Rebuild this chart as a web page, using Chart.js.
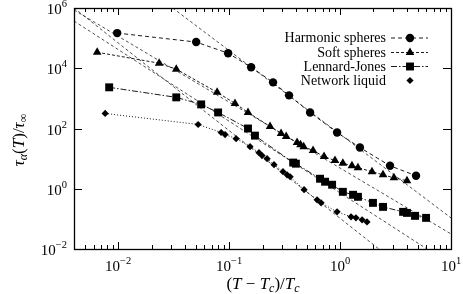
<!DOCTYPE html>
<html><head><meta charset="utf-8">
<script src="https://cdn.jsdelivr.net/npm/chart.js@4"></script>
<style>html,body{margin:0;padding:0;background:#fff}#wrap{width:463px;height:294px}</style>
</head><body><div id="wrap"><canvas id="c" width="463" height="294"></canvas></div>
<script>
// ---- data ----
const seriesNames = ["Harmonic spheres", "Soft spheres", "Lennard-Jones", "Network liquid"];

const harmonicX = [0.0098, 0.0505, 0.098, 0.158, 0.249, 0.347, 0.537, 0.94, 1.51, 2.82, 4.84];
const harmonicY = [1.47e5, 7.4e4, 3.16e4, 1.08e4, 3.4e3, 1.26e3, 341, 73.6, 23.3, 5.8, 2.7];

const softX = [0.00647, 0.0234, 0.0334, 0.078, 0.113, 0.148, 0.234, 0.294, 0.327, 0.41, 0.44, 0.47, 0.571, 0.718, 0.90, 1.06, 1.28, 1.45, 1.94, 2.44, 3.06, 4.01];
const softY = [3.4e4, 1.47e4, 9.3e3, 1585, 681, 341, 117, 68, 54, 34, 29, 25, 18.5, 11.7, 8.6, 7.0, 5.8, 5.0, 3.7, 2.9, 2.3, 1.85];

const ljX = [0.0083, 0.0334, 0.056, 0.0796, 0.148, 0.171, 0.378, 0.40, 0.66, 0.733, 0.848, 1.06, 1.31, 1.45, 1.98, 2.44, 3.70, 4.01, 4.74, 5.96];
const ljY = [2327, 1080, 631, 341, 100, 58, 7.4, 6.8, 2.15, 1.71, 1.36, 0.79, 0.63, 0.54, 0.34, 0.25, 0.171, 0.158, 0.126, 0.108];

const networkX = [0.00764, 0.0526, 0.0848, 0.092, 0.1156, 0.1545, 0.186, 0.198, 0.22, 0.254, 0.306, 0.333, 0.355, 0.474, 0.621, 0.675, 0.94, 1.256, 1.39, 1.58, 1.75];
const networkY = [316, 136, 73.6, 63, 46, 25, 15.8, 12.6, 10, 6.3, 3.7, 2.9, 2.5, 0.93, 0.43, 0.34, 0.171, 0.117, 0.108, 0.093, 0.079];

// power-law fit lines (end points)
const harmonicFitX = [0.031, 10];
const harmonicFitY = [1e6, 0.108];
const softFitX = [0.004, 10];
const softFitY = [8.57e5, 0.0316];
const ljFitX = [0.004, 6.08];
const ljFitY = [3.69e5, 0.01];
const networkFitX = [0.004, 2.24];
const networkFitY = [1e6, 0.01];

// axis tick labels
const xTickValues = [0.01, 0.1, 1, 10];
const xTickExps = ["\u22122", "\u22121", "0", "1"];
const yTickValues = [0.01, 1, 100, 1e4, 1e6];
const yTickExps = ["\u22122", "0", "2", "4", "6"];

// ---- build ----
const pts = (xs, ys) => xs.map((x, i) => ({x: x, y: ys[i]}));
const SERIF = '"Liberation Serif", "DejaVu Serif", serif';

function seriesDS(label, xs, ys, style, radius, dash) {
  return {
    label: label, data: pts(xs, ys), showLine: true,
    borderColor: '#000', backgroundColor: '#000', borderWidth: 0.9,
    borderDash: dash, pointStyle: style, pointRadius: radius,
    pointBackgroundColor: '#000', pointBorderColor: '#000', pointBorderWidth: 0,
    tension: 0, order: 1
  };
}
function fitDS(xs, ys) {
  return {
    label: 'fit', data: pts(xs, ys), showLine: true,
    borderColor: '#222', borderWidth: 0.8, borderDash: [3, 2.5],
    pointRadius: 0, tension: 0, clip: 0, order: 2
  };
}

const styles = [
  {ps: 'circle', r: 4.2, dash: [4, 3]},
  {ps: 'triangle', r: 5, dash: [3, 2]},
  {ps: 'rect', r: 5.6, dash: [6, 2, 1.5, 2]},
  {ps: 'rectRot', r: 3.6, dash: [1, 2]}
];

const datasets = [
  fitDS(harmonicFitX, harmonicFitY),
  fitDS(softFitX, softFitY),
  fitDS(ljFitX, ljFitY),
  fitDS(networkFitX, networkFitY),
  seriesDS(seriesNames[0], harmonicX, harmonicY, styles[0].ps, styles[0].r, styles[0].dash),
  seriesDS(seriesNames[1], softX, softY, styles[1].ps, styles[1].r, styles[1].dash),
  seriesDS(seriesNames[2], ljX, ljY, styles[2].ps, styles[2].r, styles[2].dash),
  seriesDS(seriesNames[3], networkX, networkY, styles[3].ps, styles[3].r, styles[3].dash)
];

function drawRich(ctx, segs, x, y, align) {
  // segs: [text, size, italic, dy]
  let w = 0;
  segs.forEach(s => { ctx.font = (s[2] ? 'italic ' : '') + s[1] + 'px ' + SERIF; w += ctx.measureText(s[0]).width; });
  let cx = align === 'center' ? x - w / 2 : (align === 'right' ? x - w : x);
  ctx.textAlign = 'left'; ctx.textBaseline = 'alphabetic';
  segs.forEach(s => {
    ctx.font = (s[2] ? 'italic ' : '') + s[1] + 'px ' + SERIF;
    ctx.fillText(s[0], cx, y + (s[3] || 0));
    cx += ctx.measureText(s[0]).width;
  });
  return w;
}

function marker(ctx, ps, r, x, y) {
  ctx.beginPath();
  if (ps === 'circle') { ctx.arc(x, y, r, 0, Math.PI * 2); }
  else if (ps === 'triangle') {
    let a = 0;
    ctx.moveTo(x + Math.sin(a) * r, y - Math.cos(a) * r); a += 2 * Math.PI / 3;
    ctx.lineTo(x + Math.sin(a) * r, y - Math.cos(a) * r); a += 2 * Math.PI / 3;
    ctx.lineTo(x + Math.sin(a) * r, y - Math.cos(a) * r);
  } else if (ps === 'rect') { const s = Math.SQRT1_2 * r; ctx.rect(x - s, y - s, 2 * s, 2 * s); }
  else if (ps === 'rectRot') { ctx.moveTo(x, y - r); ctx.lineTo(x + r, y); ctx.lineTo(x, y + r); ctx.lineTo(x - r, y); }
  ctx.closePath(); ctx.fillStyle = '#000'; ctx.fill();
}

const decor = {
  id: 'decor',
  afterDraw(chart) {
    const ctx = chart.ctx, a = chart.chartArea, xs = chart.scales.x, ys = chart.scales.y;
    ctx.save();
    ctx.strokeStyle = '#000'; ctx.fillStyle = '#000'; ctx.setLineDash([]);
    // frame
    ctx.lineWidth = 1.3;
    ctx.strokeRect(a.left + 0.5, a.top + 0.5, a.right - a.left, a.bottom - a.top);
    // x ticks
    ctx.lineWidth = 1;
    ctx.beginPath();
    for (let d = -3; d <= 1; d++) {
      for (let k = 1; k <= 9; k++) {
        const v = k * Math.pow(10, d);
        if (v < xs.min * 0.999 || v > xs.max * 1.001) continue;
        const px = Math.round(xs.getPixelForValue(v)) + 0.5;
        const L = k === 1 ? 7 : 4;
        ctx.moveTo(px, a.bottom); ctx.lineTo(px, a.bottom - L);
        ctx.moveTo(px, a.top); ctx.lineTo(px, a.top + L);
      }
    }
    yTickValues.forEach(v => {
      const py = Math.round(ys.getPixelForValue(v)) + 0.5;
      ctx.moveTo(a.left, py); ctx.lineTo(a.left + 8, py);
      ctx.moveTo(a.right, py); ctx.lineTo(a.right - 8, py);
    });
    ctx.stroke();
    // tick labels
    xTickValues.forEach((v, i) => {
      const px = xs.getPixelForValue(v);
      drawRich(ctx, [["10", 15, false, 0], [xTickExps[i], 10.5, false, -7]], px, 271, 'center');
    });
    yTickValues.forEach((v, i) => {
      const py = ys.getPixelForValue(v);
      drawRich(ctx, [["10", 15, false, 0], [yTickExps[i], 10.5, false, -7]], 67, py + 6, 'right');
    });
    // axis titles
    drawRich(ctx, [["(", 17, false, 0], ["T", 17, true, 0], [" \u2212 ", 17, false, 0], ["T", 17, true, 0], ["c", 12, true, 3],
                   [")/", 17, false, 0], ["T", 17, true, 0], ["c", 12, true, 3]], 263, 289, 'center');
    ctx.save();
    ctx.translate(24, 140); ctx.rotate(-Math.PI / 2);
    drawRich(ctx, [["\u03c4", 17, true, 0], ["\u03b1", 12, true, 3], ["(", 17, false, 0], ["T", 17, true, 0], [")/", 17, false, 0],
                   ["\u03c4", 17, true, 0], ["\u221e", 12, false, 3]], 0, 0, 'center');
    ctx.restore();
    // legend
    const rowsY = [38, 52.5, 66.5, 80.5];
    seriesNames.forEach((name, i) => {
      const y = rowsY[i];
      drawRich(ctx, [[name, 14, false, 0]], 386, y + 4, 'right');
      if (i < 3) {
        ctx.lineWidth = 0.9; ctx.setLineDash(styles[i].dash);
        ctx.beginPath(); ctx.moveTo(391, y); ctx.lineTo(428, y); ctx.stroke();
        ctx.setLineDash([]);
      }
      marker(ctx, styles[i].ps, styles[i].r, 410, y);
    });
    ctx.restore();
  }
};

new Chart(document.getElementById('c'), {
  type: 'scatter',
  data: {datasets: datasets},
  options: {
    responsive: false, animation: false, devicePixelRatio: 1,
    layout: {padding: {left: 74, right: 12, top: 8, bottom: 45}},
    plugins: {legend: {display: false}, tooltip: {enabled: false}},
    scales: {
      x: {type: 'logarithmic', min: 0.004, max: 10, display: false},
      y: {type: 'logarithmic', min: 0.01, max: 1e6, display: false}
    }
  },
  plugins: [decor]
});
</script>
</body></html>
